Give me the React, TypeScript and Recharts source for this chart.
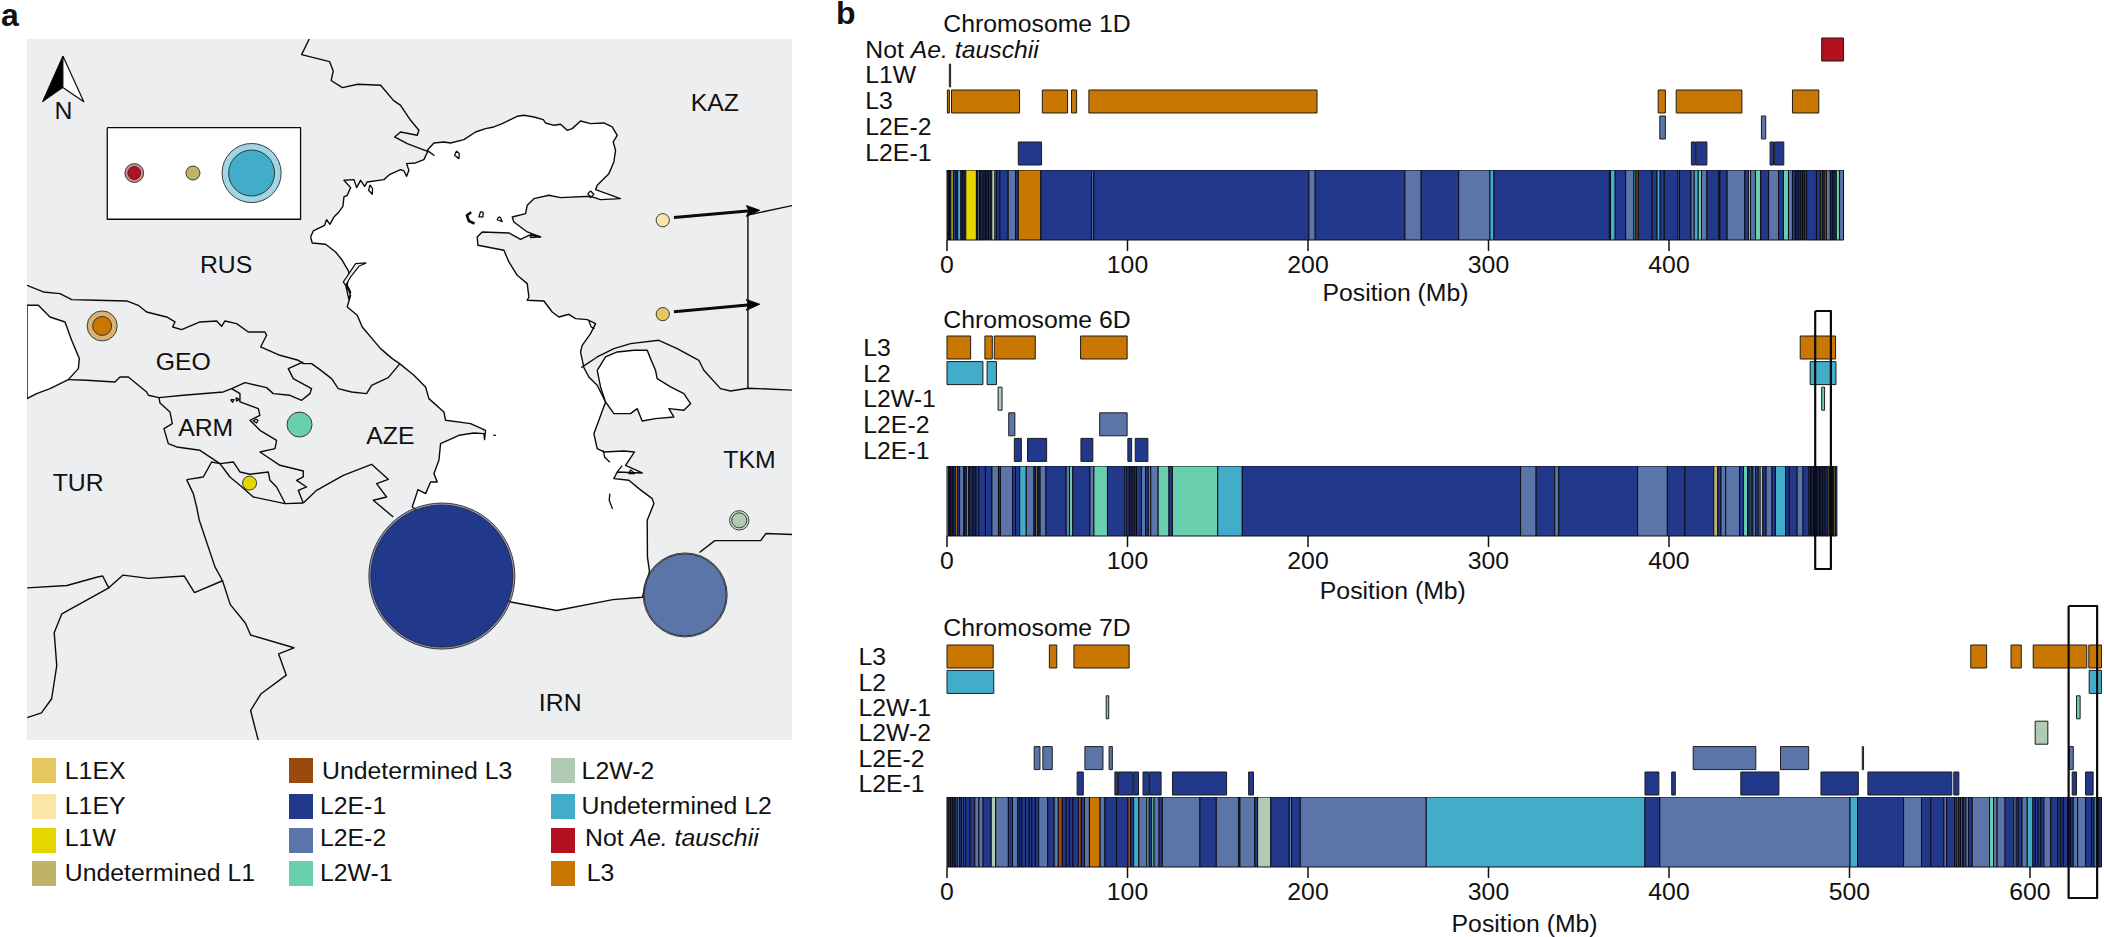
import React from 'react';
import { BarChart, Bar, XAxis, YAxis, ZAxis, ScatterChart, Scatter } from 'recharts';

const FONT = '"Liberation Sans", Arial, sans-serif';
const FS = 24.8;
const INK = '#111';
const PX_PER_MB = 1.805;

const COLORS: Record<string, string> = {
  X: '#e5c75f', Y: '#fce5a8', W: '#e5d600', U1: '#bfb36a', U3: '#9a4a0c', E1: '#21388b',
  E2: '#5c75a8', W1: '#69cfae', W2: '#b0cab4', U2: '#42adc8', N: '#b3111f', L3: '#c97700',
};

// ---------- panel a: map outlines, traced in four reading frames ----------
type P = [number, number];
const Z = (a: P[]): P[] => a.map(([x, y]) => [26.5 + (x - 52) / 1.96, 38.7 + (y - 82) / 2.119]);
const A = (a: P[]): P[] => a.map(([x, y]) => [300 + x / 3, 100 + y / 3]);
const B = (a: P[]): P[] => a.map(([x, y]) => [26 + x / 3, 280 + y / 3]);
const C = (a: P[]): P[] => a.map(([x, y]) => [330 + x / 3, 280 + y / 3]);

const caspianNorth: P[] = [[30,410],[38,392],[72,375],[78,358],[88,372],[100,350],[115,335],[127,318],[130,290],[140,285],[150,262],[130,240],[160,238],[168,262],[180,240],[192,258],[200,245],[250,238],[268,222],[300,208],[310,212],[318,228],[325,210],[318,190],[345,188],[370,178],[382,152],[400,165],[380,150],[400,128],[430,125],[450,128],[490,118],[525,95],[555,85],[580,80],[605,70],[625,60],[650,48],[670,45],[700,50],[728,58],[735,68],[760,75],[780,72],[800,90],[815,85],[840,62],[870,70],[910,68],[935,80],[950,105],[938,125],[945,150],[940,185],[925,220],[890,255],[885,268],[960,295],[900,298],[870,288],[780,292],[745,285],[700,295],[680,315],[675,340],[635,350],[640,365],[680,395],[720,410],[685,405],[660,417],[625,398],[545,395],[530,410],[532,435],[610,450],[625,485],[650,525],[680,550],[685,590]];
const caspianEast: P[] = [[590,60],[640,62],[665,95],[685,110],[715,102],[735,115],[770,118],[795,130],[780,160],[755,195],[750,215],[760,262],[775,290],[800,315],[815,345],[825,365],[805,420],[790,460],[800,505],[820,515],[880,512],[912,515],[885,555],[935,578],[860,575],[850,595],[895,600],[925,625],[965,655],[970,670],[950,720]];
const caspianSouth: P[] = [[1268,1180],[1272,1210],[1258,1265],[1200,1270],[1090,1293],[1000,1275],[900,1200],[815,1080]];
const caspianWest: P[] = [[245,680],[255,650],[262,628],[285,640],[300,605],[320,605],[310,580],[325,540],[330,490],[385,465],[430,458],[460,460],[462,478],[465,450],[420,430],[345,420],[340,395],[295,355],[285,320],[250,285],[207,250],[185,235],[150,205],[95,140],[80,105],[50,80],[60,45],[50,20],[42,0]];
const caspianNorthWest: P[] = [[145,598],[150,575],[140,555],[145,515],[125,480],[105,455],[75,432],[35,428],[30,410]];
const caspian: P[] = [...A(caspianNorth), ...C(caspianEast), ...Z(caspianSouth), ...C(caspianWest), ...A(caspianNorthWest)];
const karaBogaz: P[] = C([[800,270],[825,230],[860,215],[910,210],[950,210],[960,235],[975,270],[980,295],[1020,320],[1060,340],[1080,370],[1060,390],[1015,385],[1030,410],[975,415],[935,422],[920,385],[900,400],[850,400],[825,365],[810,320],[800,270]]);
const blackSea: P[] = B([[1,75],[35,75],[70,110],[115,125],[135,180],[158,235],[155,265],[125,298],[70,325],[30,340],[1,355],[1,75]]);
const lagoon: P[] = A([[197,488],[165,490],[145,520],[128,545],[135,555],[150,530],[175,498],[197,488]]);
const insetBox: P[] = Z([[209,270],[588,270],[588,464],[209,464],[209,270]]);
const northLeft: P[] = Z([[122,118],[122,185],[82,215],[122,118]]);
const northRight: P[] = Z([[122,118],[163,215],[122,185],[122,118]]);
const arrowHead1: P[] = Z([[1488,445],[1462,435],[1467,446],[1462,458],[1488,445]]);
const arrowHead2: P[] = Z([[1488,644],[1462,634],[1467,645],[1462,657],[1488,644]]);
const arrowShaft1: P[] = Z([[1320,460],[1470,446]]);
const arrowShaft2: P[] = Z([[1320,660],[1470,645]]);
const borders: P[][] = [
  Z([[605,82],[590,115],[645,130],[652,150],[648,170],[670,185],[700,178],[745,180],[770,212]]).concat(A([[300,15],[330,60],[355,90],[350,105],[300,95],[282,110],[320,130],[385,155]])),
  B([[1,15],[50,35],[100,40],[135,58],[210,60],[300,62],[335,75],[360,95],[420,110],[445,125],[438,140],[465,148],[520,125],[570,122],[585,138],[595,122],[630,130],[665,155],[715,155],[720,165],[702,200],[760,225],[815,240],[830,250],[855,250],[880,268],[915,295],[935,325],[975,335],[1020,340],[1035,315],[1085,292],[1120,250]]),
  B([[125,298],[180,300],[265,305],[280,290],[305,290],[360,335],[365,345],[397,352],[470,345],[590,335],[615,325],[655,307],[720,322],[740,340],[790,345],[825,360],[850,340],[855,325],[800,295],[785,265],[830,245]]),
  B([[397,352],[400,368],[430,395],[437,430],[412,445],[425,490],[450,500],[520,510],[580,550],[620,545],[640,575],[670,582],[725,575],[730,600],[750,620],[775,668]]),
  B([[580,550],[610,590],[640,615],[680,650],[775,670],[830,668]]),
  B([[615,325],[640,340],[640,365],[695,385],[700,405],[670,420],[700,450],[750,480],[745,505],[700,515],[760,555],[830,572],[830,590],[810,600],[840,620],[815,630],[830,668]]),
  B([[480,598],[530,590],[555,545],[580,550]]),
  B([[480,598],[500,640],[510,680],[518,720]]).concat(Z([[420,1200],[435,1230],[450,1280],[480,1320],[490,1345],[575,1372],[545,1385],[560,1430],[510,1470],[490,1505],[505,1568]])),
  B([[830,668],[870,630],[950,585],[1035,552],[1085,597],[1050,610],[1080,650],[1040,660],[1100,710]]),
  Z([[52,1245],[130,1240],[190,1222],[200,1220],[212,1245],[240,1218],[290,1225],[360,1220],[380,1255],[435,1230]]),
  Z([[212,1245],[120,1300],[105,1340],[110,1410],[100,1480],[80,1510],[52,1520]]),
  Z([[1552,435],[1465,455],[1465,822]]),
  C([[752,262],[800,230],[850,205],[900,190],[985,180],[1040,205],[1105,240],[1120,270],[1170,325],[1200,332]]).concat(Z([[1465,822],[1552,826]])),
  Z([[1370,1170],[1400,1145],[1490,1145],[1500,1130],[1552,1132]]),
];
const islets: P[][] = [
  A([[468,152],[462,165],[475,175],[476,160],[468,152]]), A([[208,254],[204,270],[215,282],[216,265],[208,254]]),
  A([[540,334],[535,350],[547,350],[548,336],[540,334]]), A([[595,350],[590,358],[605,364],[600,352],[595,350]]),
  A([[870,272],[862,280],[870,292],[880,282],[870,272]]), A([[690,402],[720,410],[690,412],[690,402]]),
  B([[612,358],[618,366],[622,358],[612,358]]), B([[628,352],[638,358],[630,362],[628,352]]), B([[688,416],[680,422],[690,428],[694,420],[688,416]]),
  C([[838,640],[836,660],[846,686]]), C([[818,510],[822,530],[838,546]]), C([[860,575],[875,556]]), C([[900,568],[895,580],[912,580],[900,568]]),
  C([[458,446],[460,450]]), C([[488,465],[496,465]]), C([[775,122],[782,140],[792,145]]),
];
const crescent: P[] = A([[512,336],[499,345],[505,362],[522,370]]);

const outerBubbles = [
  { x: 865, y: 1220, z: 1000, lin: 'E1' }, { x: 1342, y: 1260, z: 331, lin: 'E2' },
  { x: 1448, y: 1102, z: 17.7, lin: 'W2' }, { x: 199, y: 690, z: 42.2, lin: 'L3' },
  { x: 262, y: 366, z: 16.6, lin: 'N' }, { x: 492, y: 366, z: 164, lin: 'U2' },
];
const innerBubbles = [
  { x: 865, y: 1220, z: 946, lin: 'E1' }, { x: 1342, y: 1260, z: 315, lin: 'E2' },
  { x: 586, y: 899, z: 29.3, lin: 'W1' }, { x: 1448, y: 1102, z: 10.6, lin: 'W2' },
  { x: 199, y: 690, z: 16.9, lin: 'L3' }, { x: 488, y: 1023, z: 9.2, lin: 'W' },
  { x: 1298, y: 466, z: 8.2, lin: 'Y' }, { x: 1298, y: 665, z: 8.2, lin: 'X' },
  { x: 262, y: 366, z: 7.7, lin: 'N' }, { x: 377, y: 366, z: 9.2, lin: 'U1' }, { x: 492, y: 366, z: 99, lin: 'U2' },
];
const mapLabels = [
  { x: 1400, y: 217, name: 'KAZ' }, { x: 442, y: 560, name: 'RUS' }, { x: 358, y: 766, name: 'GEO' },
  { x: 402, y: 905, name: 'ARM' }, { x: 764, y: 922, name: 'AZE' }, { x: 152, y: 1022, name: 'TUR' },
  { x: 1468, y: 972, name: 'TKM' }, { x: 1097, y: 1488, name: 'IRN' }, { x: 123, y: 233, name: 'N' },
];

// ---------- panel b: tracks ----------
type Seg = [number, number, string?];
type Lane = { name: string; lin: string; segs: Seg[] };

const lanes1D: Lane[] = [
  { name: 'Not Ae. tauschii', lin: 'N', segs: [[484.6, 496.7]] },
  { name: 'L1W', lin: 'U1', segs: [[1.3, 2]] },
  { name: 'L3', lin: 'L3', segs: [[0.2, 1.3], [2.5, 40.2], [52.8, 66.8], [69, 71.8], [78.6, 205], [394, 398], [404, 440.4], [468.4, 483]] },
  { name: 'L2E-2', lin: 'E2', segs: [[394.9, 398], [451.2, 453.6]] },
  { name: 'L2E-1', lin: 'E1', segs: [[39.5, 52.4], [412.4, 414.6], [415, 421], [456, 457.9], [458.5, 463.6]] },
];
const lanes6D: Lane[] = [
  { name: 'L3', lin: 'L3', segs: [[0, 13.1], [21, 25.1], [26.2, 48.9], [74, 99.8], [472.7, 492.3]] },
  { name: 'L2', lin: 'U2', segs: [[0, 19.9], [22.2, 27.4], [478.2, 492.5]] },
  { name: 'L2W-1', lin: 'W1', segs: [[28.3, 30.5, 'W2'], [484.6, 486.2]] },
  { name: 'L2E-2', lin: 'E2', segs: [[34.2, 37.6], [84.6, 99.8]] },
  { name: 'L2E-1', lin: 'E1', segs: [[37.3, 41.2], [44.6, 55.2], [74.2, 80.8], [100.2, 102.3], [104.3, 111.3]] },
];
const lanes7D: Lane[] = [
  { name: 'L3', lin: 'L3', segs: [[0, 25.6], [56.7, 60.8], [70.3, 100.9], [567.2, 576], [589.5, 595.2], [601.8, 631.5], [632.6, 639.6]] },
  { name: 'L2', lin: 'U2', segs: [[0, 25.9], [632.8, 639.6]] },
  { name: 'L2W-1', lin: 'W1', segs: [[88.2, 89.6], [625.8, 627.8]] },
  { name: 'L2W-2', lin: 'W2', segs: [[602.9, 609.9]] },
  { name: 'L2E-2', lin: 'E2', segs: [[48.3, 51.5], [53.1, 58.3], [76.4, 86.4], [89.8, 91.6], [413.4, 448.1], [461.8, 477.4], [507.1, 507.8], [621.8, 624]] },
  { name: 'L2E-1', lin: 'E1', segs: [[72.1, 75.5], [93, 94.8], [95, 103], [103.4, 106.1], [108.6, 111.8], [112.2, 118.6], [124.9, 154.9], [167.1, 169.8], [386.7, 394.4], [401.5, 403.5], [439.8, 460.9], [484.2, 504.9], [510.2, 556.7], [557.8, 560.6], [623.4, 625.8], [630.8, 635]] },
];

type M = [number, string];
const mosaic1D: M[] = [[0.8,'E1'],[1.4,'U1'],[2.2,'E1'],[3.5,'W'],[5,'E1'],[5.9,'E1'],[7.7,'U2'],[8.5,'E1'],[9.5,'E1'],[10.4,'E1'],[16.3,'W'],[17.2,'E1'],[18,'W2'],[18.8,'E1'],[19.5,'E2'],[20.5,'E1'],[21.3,'E1'],[22.2,'E1'],[23,'E1'],[24,'E1'],[24.8,'E1'],[26.6,'W2'],[27.5,'E2'],[29.3,'E1'],[33.9,'E1'],[38,'E2'],[39.5,'E1'],[52,'L3'],[80.1,'E1'],[81.3,'E2'],[200.5,'E1'],[204,'E2'],[253.7,'E1'],[262.7,'E2'],[283.5,'E1'],[300.8,'E2'],[303,'U2'],[367,'E1'],[367.6,'W2'],[370.2,'U2'],[376,'E1'],[380.6,'E2'],[381.7,'U2'],[383,'U3'],[390.7,'E1'],[393.4,'E1'],[395.1,'U2'],[397.4,'E1'],[404.9,'E1'],[405.8,'E2'],[412.2,'E1'],[414,'E2'],[416.2,'U2'],[418,'W1'],[421,'E2'],[427.6,'E1'],[428.2,'E1'],[432.2,'E1'],[442,'E2'],[444.1,'E1'],[445.2,'W2'],[447.9,'E2'],[450.8,'W1'],[455.2,'E1'],[460.7,'E2'],[463.4,'E1'],[466.2,'W1'],[468.4,'E2'],[470,'E1'],[471,'E1'],[472,'E1'],[473,'E1'],[474,'E1'],[475,'E1'],[476.2,'E1'],[481.7,'E1'],[483.9,'E1'],[485,'U3'],[486,'E1'],[487.2,'U3'],[489.4,'E2'],[490.5,'E1'],[491.5,'E1'],[492.7,'E1'],[494.5,'W1'],[496.7,'E2']];
const mosaic6D: M[] = [[0.9,'W1'],[1.5,'E1'],[2.2,'E1'],[3,'E1'],[3.8,'E1'],[4.8,'E1'],[5.9,'L3'],[7,'E1'],[9.3,'E2'],[10,'E1'],[11,'E1'],[12,'W2'],[12.7,'E1'],[14,'E1'],[15,'E1'],[16,'E1'],[17.6,'E1'],[21.3,'E1'],[24.9,'E1'],[28.5,'E2'],[29.6,'E1'],[36.4,'E2'],[38,'E1'],[40.3,'E1'],[43.9,'U2'],[48.2,'E2'],[49,'E1'],[50,'U1'],[51,'E1'],[51.6,'E2'],[54.8,'E2'],[66,'E1'],[67.9,'E2'],[69.7,'W1'],[79.2,'E1'],[81.4,'E2'],[88.9,'W1'],[98.6,'E1'],[99.5,'E2'],[101,'E1'],[102,'E1'],[103,'E1'],[104,'E1'],[105,'E1'],[107.7,'E1'],[110,'E2'],[111.5,'E1'],[112.9,'E2'],[117,'E2'],[123,'W1'],[124.9,'E1'],[150,'W1'],[163.6,'U2'],[317.8,'E1'],[326.4,'E2'],[336.7,'E1'],[338.9,'E2'],[382.6,'E1'],[399.1,'E2'],[408.8,'E1'],[424.8,'E1'],[427,'U1'],[428.8,'E1'],[431.4,'E2'],[439.1,'E2'],[441.3,'E1'],[443.5,'W1'],[444.5,'E1'],[445.5,'W1'],[446.5,'E1'],[448,'E2'],[449.5,'E1'],[450.5,'W1'],[452,'W2'],[453.8,'E1'],[457.1,'E2'],[459,'E1'],[464.6,'U2'],[466.6,'E1'],[471,'E1'],[474.3,'E2'],[477.6,'E1'],[478.4,'E1'],[479.2,'E1'],[480,'E1'],[481,'E1'],[481.8,'E1'],[482.6,'E1'],[483.4,'E1'],[484.2,'E1'],[485,'E1'],[486,'E1'],[487,'E1'],[488.2,'E1'],[489,'U1'],[489.8,'E1'],[490.6,'U3'],[491.4,'E1'],[492.2,'U1'],[493,'E1']];
const mosaic7D: M[] = [[1,'E1'],[2,'E1'],[3,'E1'],[4,'E1'],[5,'E1'],[5.9,'E2'],[7,'E2'],[8,'E1'],[9,'E2'],[10.4,'E1'],[12.7,'E1'],[15.4,'E1'],[17.7,'E2'],[20,'E2'],[24.5,'E1'],[27,'W2'],[34,'E2'],[36.3,'E1'],[39.2,'E2'],[40.3,'E1'],[41.5,'E1'],[43.5,'E1'],[45.6,'E1'],[47,'E1'],[49,'E1'],[50.8,'E1'],[55.8,'E2'],[59.4,'E1'],[61.7,'E2'],[63.9,'U3'],[66,'E1'],[67.8,'E1'],[69.8,'E1'],[72.8,'E1'],[74.4,'U3'],[76.2,'E1'],[78.9,'E2'],[84.8,'L3'],[87.5,'E2'],[93.9,'E1'],[100.2,'E1'],[101.8,'U3'],[103.4,'E1'],[106.3,'U2'],[110.7,'E2'],[112,'W1'],[113.4,'E1'],[114.7,'W1'],[117.5,'E2'],[119.3,'E1'],[140.1,'E2'],[149.2,'E1'],[161.5,'E2'],[162.3,'E1'],[170.5,'E2'],[172.1,'E1'],[179.4,'W2'],[189.6,'E1'],[190.9,'E2'],[195.7,'E1'],[265.5,'E2'],[386.7,'U2'],[394.9,'E1'],[500.3,'E2'],[504.5,'U2'],[530,'E1'],[539.9,'E2'],[545,'E1'],[552.3,'E1'],[553.8,'E2'],[558.2,'E1'],[559.5,'E1'],[560.5,'E2'],[561.5,'E1'],[562.5,'E2'],[563.5,'E1'],[564.5,'E2'],[566,'E2'],[568,'E1'],[577.6,'E2'],[579.8,'W1'],[581.8,'E2'],[586.2,'E2'],[591.2,'E1'],[592.3,'W2'],[593.5,'E1'],[595.6,'E1'],[598.5,'E2'],[601.6,'U2'],[603,'E1'],[604.5,'E1'],[606,'E1'],[607.7,'E1'],[611.5,'E2'],[615.4,'E1'],[617,'E1'],[618.5,'E1'],[620.9,'E1'],[622.5,'E1'],[624,'E1'],[626.4,'E2'],[630.8,'E2'],[634.1,'E1'],[635.5,'E1'],[637,'E2'],[638.2,'E1'],[639.6,'E1']];

const ticks1D = [0, 100, 200, 300, 400];
const ticks6D = [0, 100, 200, 300, 400];
const ticks7D = [0, 100, 200, 300, 400, 500, 600];

const highlight6D = { from: 481, to: 489.7 };
const highlight7D = { from: 621.4, to: 637.2 };

// ---------- legend ----------
const legendCols = [
  [{ lin: 'X', name: 'L1EX' }, { lin: 'Y', name: 'L1EY' }, { lin: 'W', name: 'L1W' }, { lin: 'U1', name: 'Undetermined L1' }],
  [{ lin: 'U3', name: 'Undetermined L3' }, { lin: 'E1', name: 'L2E-1' }, { lin: 'E2', name: 'L2E-2' }, { lin: 'W1', name: 'L2W-1' }],
  [{ lin: 'W2', name: 'L2W-2' }, { lin: 'U2', name: 'Undetermined L2' }, { lin: 'N', name: 'Not Ae. tauschii' }, { lin: 'L3', name: 'L3' }],
];

const toPts = (a: P[]) => a.map(([x, y]) => ({ x, y }));
const noMark = () => null;
const fromZ = <T extends { x: number; y: number }>(list: T[]) =>
  list.map((d) => { const [[x, y]] = Z([[d.x, d.y]]); return { ...d, x, y }; });

const renderPoly = (key: string, pts: P[], fill = 'none', sw = 1.4) => (
  <Scatter key={key} data={toPts(pts)} shape={noMark} isAnimationActive={false} legendType="none"
    line={{ fill, stroke: '#0b0b0b', strokeWidth: sw, strokeLinejoin: 'round' }} lineType="joint" />
);

const Circle = (opacity: number) => (p: any) => {
  const r = Math.sqrt((p.size ?? 0) / Math.PI);
  return <circle cx={p.cx} cy={p.cy} r={r} fill={COLORS[p.payload.lin]} fillOpacity={opacity} stroke="#2a2a2a" strokeWidth={0.9} />;
};

const LabelMark = (p: any) => (
  <text x={p.cx} y={p.cy} textAnchor="middle" dominantBaseline="central" fontFamily={FONT} fontSize={FS} fill={INK}>{p.payload.name}</text>
);

function MapChart() {
  return (
    <div style={{ position: 'absolute', left: 26.5, top: 38.7, background: '#edeeef' }}>
      <ScatterChart width={765.5} height={701.5} margin={{ top: 0, right: 0, bottom: 0, left: 0 }}>
        <XAxis type="number" dataKey="x" domain={[26.5, 792]} hide />
        <YAxis type="number" dataKey="y" domain={[38.7, 740.2]} reversed hide />
        <ZAxis type="number" dataKey="z" domain={[0, 1000]} range={[0, 16742]} />
        {renderPoly('caspian', caspian, '#ffffff')}
        {renderPoly('kara', karaBogaz, '#ffffff')}
        {renderPoly('black', blackSea, '#ffffff')}
        {renderPoly('lagoon', lagoon, '#edeeef', 1.2)}
        {borders.map((b, i) => renderPoly('b' + i, b))}
        {islets.map((b, i) => renderPoly('i' + i, b, 'none', 1.3))}
        {renderPoly('cres', crescent, 'none', 2.6)}
        {renderPoly('inset', insetBox, '#ffffff', 1.3)}
        {renderPoly('nl', northLeft, '#000000', 1)}
        {renderPoly('nr', northRight, '#ffffff', 1.2)}
        {renderPoly('s1', arrowShaft1, 'none', 3)}
        {renderPoly('s2', arrowShaft2, 'none', 3)}
        {renderPoly('h1', arrowHead1, '#000000', 1)}
        {renderPoly('h2', arrowHead2, '#000000', 1)}
        <Scatter data={fromZ(outerBubbles)} shape={Circle(0.5)} isAnimationActive={false} />
        <Scatter data={fromZ(innerBubbles)} shape={Circle(1)} isAnimationActive={false} />
        <Scatter data={fromZ(mapLabels)} shape={LabelMark} isAnimationActive={false} />
      </ScatterChart>
    </div>
  );
}

const laneLabel = (name: string) =>
  name.startsWith('Not') ? (
    <>Not <tspan fontStyle="italic">Ae. tauschii</tspan></>
  ) : name;

function Lanes({ lanes, top, pitch, labelX, max }: { lanes: Lane[]; top: number; pitch: number; labelX: number; max: number }) {
  const CHART_LEFT = 850;
  const axisW = 947 - CHART_LEFT;
  const rows = lanes.map((l, i) => {
    const row: any = { lane: l.name };
    let prev = 0;
    l.segs.forEach((s, j) => {
      row[`g${i}_${j}`] = Math.max(0, s[0] - prev);
      row[`b${i}_${j}`] = s[1] - Math.max(s[0], prev);
      prev = s[1];
    });
    return row;
  });
  return (
    <div style={{ position: 'absolute', left: CHART_LEFT, top }}>
      <BarChart layout="vertical" width={axisW + max * PX_PER_MB + 2} height={pitch * lanes.length} data={rows}
        margin={{ top: 0, right: 2, bottom: 0, left: 0 }} barCategoryGap={0} barSize={23}>
        <XAxis type="number" domain={[0, max]} hide />
        <YAxis type="category" dataKey="lane" width={axisW} axisLine={false} tickLine={false} interval={0}
          tick={(p: any) => (
            <text x={labelX - CHART_LEFT} y={p.y} dominantBaseline="central" textAnchor="start" fontFamily={FONT} fontSize={FS} fill={INK}>
              {laneLabel(p.payload.value)}
            </text>
          )} />
        {lanes.flatMap((l, i) =>
          l.segs.flatMap((s, j) => [
            <Bar key={`g${i}_${j}`} dataKey={`g${i}_${j}`} stackId="t" fill="none" stroke="none" isAnimationActive={false} />,
            <Bar key={`b${i}_${j}`} dataKey={`b${i}_${j}`} stackId="t" fill={COLORS[s[2] ?? l.lin]} stroke="#1c1c1c" strokeWidth={1} isAnimationActive={false} />,
          ])
        )}
      </BarChart>
    </div>
  );
}

function Mosaic({ name, segs, ticks, top, max, labelOffset }: { name: string; segs: M[]; ticks: number[]; top: number; max: number; labelOffset: number }) {
  const row: any = { chr: name };
  segs.forEach(([e], i) => { row['s' + i] = e - (i ? segs[i - 1][0] : 0); });
  const ML = 20;
  return (
    <div style={{ position: 'absolute', left: 947 - ML, top }}>
      <BarChart layout="vertical" width={ML + max * PX_PER_MB + 2} height={70 + 70} data={[row]}
        margin={{ top: 0, right: 2, bottom: 0, left: ML }} barCategoryGap={0}>
        <XAxis type="number" domain={[0, max]} ticks={ticks} interval={0} height={70} axisLine={false} tickSize={11}
          tickLine={{ stroke: INK, strokeWidth: 1.5 }} tickMargin={4}
          tick={{ fontFamily: FONT, fontSize: FS, fill: INK }}
          label={{ value: 'Position (Mb)', position: 'insideBottom', offset: labelOffset, fontFamily: FONT, fontSize: FS, fill: INK }} />
        <YAxis type="category" dataKey="chr" hide />
        {segs.map(([, lin], i) => (
          <Bar key={i} dataKey={'s' + i} stackId="m" fill={COLORS[lin]} stroke="#0c0c14" strokeWidth={1} isAnimationActive={false} />
        ))}
      </BarChart>
    </div>
  );
}

function Highlight({ top, height, max, range }: { top: number; height: number; max: number; range: { from: number; to: number } }) {
  const corners: P[] = [[range.from, 0], [range.to, 0], [range.to, 1], [range.from, 1], [range.from, 0]];
  return (
    <div style={{ position: 'absolute', left: 947, top: top - 2, pointerEvents: 'none' }}>
      <ScatterChart width={max * PX_PER_MB + 6} height={height + 4} margin={{ top: 2, right: 6, bottom: 2, left: 0 }}>
        <XAxis type="number" dataKey="x" domain={[0, max]} hide />
        <YAxis type="number" dataKey="y" domain={[0, 1]} reversed hide />
        {renderPoly('box', corners, 'none', 2.2)}
      </ScatterChart>
    </div>
  );
}

const Txt = ({ x, y, size = FS, bold, h = 40, children }: any) => (
  <div style={{ position: 'absolute', left: x, top: y - h / 2, height: h, lineHeight: h + 'px', whiteSpace: 'pre', fontFamily: FONT, fontSize: size, fontWeight: bold ? 700 : 400, color: INK }}>{children}</div>
);

function LegendBlock() {
  const swX = [31.6, 288.8, 551];
  const txX = [[64.8, 64.8, 64.8, 64.8], [322, 320, 320, 320], [581.6, 581.6, 585, 586.7]];
  const swY = [758, 794.3, 828, 861.3];
  const txY = [770.7, 805.7, 838.3, 873.3];
  return (
    <>
      {legendCols.map((col, c) => col.map((it, r) => (
        <React.Fragment key={it.name}>
          <div style={{ position: 'absolute', left: swX[c], top: swY[r], width: 24, height: 24.5, background: COLORS[it.lin] }} />
          <Txt x={txX[c][r]} y={txY[r]}>{it.name.startsWith('Not') ? <>Not <i>Ae. tauschii</i></> : it.name}</Txt>
        </React.Fragment>
      )))}
    </>
  );
}

export default function App() {
  return (
    <div style={{ position: 'absolute', left: 0, top: 0, width: 2104, height: 937, overflow: 'hidden', background: '#fff' }}>
      <Txt x={1} y={15} size={32} h={30} bold>a</Txt>
      <Txt x={836} y={13} size={32} h={26} bold>b</Txt>
      <MapChart />
      <LegendBlock />

      <Txt x={943.3} y={24.3}>Chromosome 1D</Txt>
      <Lanes lanes={lanes1D} top={36} pitch={26} labelX={865.3} max={497} />
      <Mosaic name="1D" segs={mosaic1D} ticks={ticks1D} top={170} max={497} labelOffset={8.5} />

      <Txt x={943.3} y={320}>Chromosome 6D</Txt>
      <Lanes lanes={lanes6D} top={335} pitch={25.6} labelX={863.3} max={494} />
      <Mosaic name="6D" segs={mosaic6D} ticks={ticks6D} top={466.3} max={494} labelOffset={6.8} />
      <Highlight top={310.7} height={258} max={494} range={highlight6D} />

      <Txt x={943.3} y={628.3}>Chromosome 7D</Txt>
      <Lanes lanes={lanes7D} top={644} pitch={25.4} labelX={858.4} max={640} />
      <Mosaic name="7D" segs={mosaic7D} ticks={ticks7D} top={796.7} max={640} labelOffset={4.8} />
      <Highlight top={605.7} height={292} max={640} range={highlight7D} />
    </div>
  );
}
